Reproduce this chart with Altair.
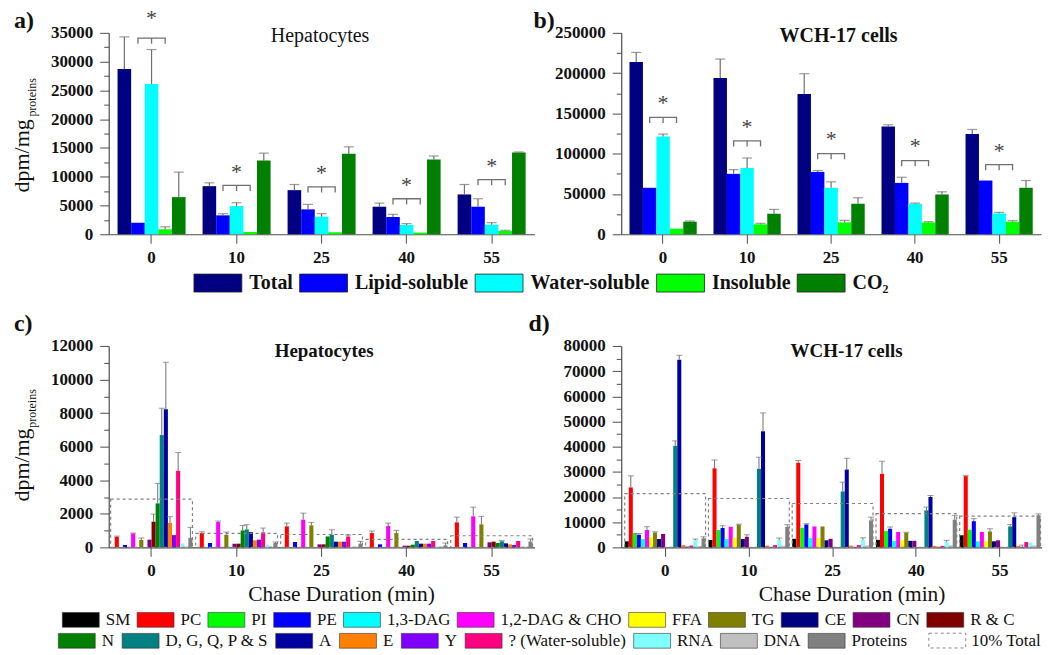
import altair as alt
import pandas as pd

FONT = "Liberation Serif"
AX = "#4d4d4d"
ERR = "#707070"
INK = "#111111"

# ---------------- shared categories ----------------
times = ["0", "10", "25", "40", "55"]

fractions = ["Total", "Lipid-soluble", "Water-soluble", "Insoluble", "CO\u2082"]
fraction_colors = ["#000080", "#0000FF", "#00FFFF", "#00FF00", "#008000"]

components = ["SM", "PC", "PI", "PE", "1,3-DAG", "1,2-DAG & CHO", "FFA", "TG", "CE", "CN", "R & C",
              "N", "D, G, Q, P & S", "A", "E", "Y", "? (Water-soluble)", "RNA", "DNA", "Proteins"]
component_colors = ["#000000", "#FF0000", "#00FF00", "#0000FF", "#00FFFF", "#FF00FF", "#FFFF00",
                    "#808000", "#000080", "#800080", "#800000", "#008000", "#008080", "#0000A0",
                    "#FF8000", "#8000FF", "#FF0080", "#80FFFF", "#C0C0C0", "#808080"]
box_label = ["10% Total"]

# ---------------- panel a: hepatocytes fractions ----------------
hep_total = [28700, 8360, 7670, 4790, 6920]
hep_total_err = [5600, 580, 980, 630, 1730]
hep_lipid = [2000, 3290, 4330, 3000, 4790]
hep_lipid_err = [0, 290, 860, 460, 1380]
hep_water = [26100, 4900, 3060, 1610, 1670]
hep_water_err = [6000, 580, 520, 240, 350]
hep_insol = [870, 400, 350, 300, 580]
hep_insol_err = [430, 0, 0, 0, 110]
hep_co2 = [6460, 12800, 14000, 13000, 14200]
hep_co2_err = [4340, 1300, 1200, 600, 100]
hep_sig = [34100, 8480, 8250, 6170, 9500]
hep_star = [37800, 11000, 10800, 8800, 12100]

# ---------------- panel b: WCH-17 fractions ----------------
wch_total = [213800, 194000, 174200, 133900, 124400]
wch_total_err = [11900, 23500, 25100, 2000, 5700]
wch_lipid = [57700, 75000, 77400, 63800, 66700]
wch_lipid_err = [0, 5300, 1700, 7000, 0]
wch_water = [121500, 82400, 57700, 37900, 25900]
wch_water_err = [2900, 12300, 7400, 800, 1300]
wch_insol = [7000, 12400, 14800, 14800, 15600]
wch_insol_err = [0, 1200, 2500, 800, 1300]
wch_co2 = [15600, 25500, 37900, 49400, 57700]
wch_co2_err = [900, 5400, 7400, 3300, 9000]
wch_sig = [145000, 116000, 100000, 91400, 86500]
wch_star = [164700, 134700, 119400, 111200, 105000]

# ---------------- panel c: hepatocytes components (order = components) ----------------
hep_c_t0 = [0, 630, 0, 140, 0, 830, 0, 440, 0, 460, 1530, 2620, 6690, 8230, 1450, 730, 4560, 240, 50, 560]
hep_c_t0_err = [0, 40, 0, 0, 0, 20, 0, 120, 0, 0, 450, 1190, 1600, 2800, 380, 0, 1090, 0, 0, 630]
hep_c_t10 = [0, 850, 0, 260, 0, 1510, 0, 750, 0, 220, 220, 1010, 1070, 910, 420, 460, 890, 160, 50, 260]
hep_c_t10_err = [0, 80, 0, 0, 0, 60, 0, 160, 0, 0, 0, 290, 280, 0, 0, 0, 260, 0, 0, 60]
hep_c_t25 = [0, 1250, 0, 320, 0, 1650, 0, 1310, 0, 180, 180, 650, 750, 340, 340, 340, 650, 50, 50, 220]
hep_c_t25_err = [0, 200, 0, 0, 0, 390, 0, 180, 0, 0, 0, 0, 300, 0, 0, 0, 80, 0, 0, 140]
hep_c_t40 = [0, 850, 0, 180, 0, 1270, 0, 850, 0, 100, 100, 160, 380, 220, 220, 220, 380, 50, 50, 120]
hep_c_t40_err = [0, 120, 0, 0, 0, 180, 0, 160, 0, 0, 0, 0, 0, 0, 0, 0, 0, 0, 0, 140]
hep_c_t55 = [0, 1490, 0, 260, 0, 1850, 0, 1370, 0, 300, 340, 260, 360, 240, 180, 140, 380, 50, 50, 350]
hep_c_t55_err = [0, 310, 0, 0, 0, 550, 0, 480, 0, 0, 0, 0, 40, 0, 0, 0, 0, 0, 0, 150]

# ---------------- panel d: WCH-17 components ----------------
wch_c_t0 = [2400, 23800, 5300, 5000, 3300, 6900, 4000, 5900, 3300, 5300, 0, 0, 40300, 74500, 900, 300, 700, 2900, 500, 3600]
wch_c_t0_err = [0, 4600, 200, 500, 0, 1300, 0, 300, 0, 0, 0, 0, 2000, 1800, 0, 0, 0, 400, 0, 600]
wch_c_t10 = [2900, 31400, 6900, 7700, 3300, 8200, 3700, 9000, 3300, 4200, 0, 0, 31200, 46100, 700, 200, 900, 2800, 700, 8100]
wch_c_t10_err = [0, 3300, 0, 900, 0, 0, 0, 200, 0, 800, 0, 0, 4600, 7300, 0, 0, 0, 900, 0, 900]
wch_c_t25 = [3400, 33600, 7800, 9100, 3700, 8300, 3700, 8300, 2800, 3400, 0, 0, 22200, 30900, 700, 200, 900, 2900, 800, 10700]
wch_c_t25_err = [0, 900, 0, 300, 0, 0, 0, 0, 0, 0, 0, 0, 3700, 4500, 0, 0, 0, 900, 0, 1300]
wch_c_t40 = [3000, 29200, 6500, 7400, 2500, 6100, 2800, 5800, 2600, 2600, 0, 0, 14700, 20000, 600, 200, 600, 2100, 800, 11000]
wch_c_t40_err = [0, 5000, 0, 700, 0, 0, 0, 200, 0, 0, 0, 0, 1300, 600, 0, 0, 0, 700, 0, 1700]
wch_c_t55 = [4800, 28300, 7000, 10400, 2400, 6100, 2400, 6300, 2400, 2800, 0, 0, 8300, 12000, 600, 200, 2100, 2000, 800, 12700]
wch_c_t55_err = [0, 200, 0, 1000, 0, 0, 0, 1100, 0, 0, 0, 0, 800, 1700, 0, 700, 0, 0, 0, 600]


# ---------------- tables ----------------
def fraction_frame(values, errors):
    recs = []
    for f, vals, errs in zip(fractions, values, errors):
        for t, v, e in zip(times, vals, errs):
            recs.append({"time": t, "series": f, "value": v, "err": e, "top": v + e})
    return pd.DataFrame(recs)


def component_frame(values, errors):
    recs = []
    for t, vals, errs in zip(times, values, errors):
        for c, v, e in zip(components, vals, errs):
            recs.append({"time": t, "comp": c, "value": v, "err": e, "top": v + e})
    return pd.DataFrame(recs)


hep_frac = fraction_frame([hep_total, hep_lipid, hep_water, hep_insol, hep_co2],
                          [hep_total_err, hep_lipid_err, hep_water_err, hep_insol_err, hep_co2_err])
wch_frac = fraction_frame([wch_total, wch_lipid, wch_water, wch_insol, wch_co2],
                          [wch_total_err, wch_lipid_err, wch_water_err, wch_insol_err, wch_co2_err])
hep_comp = component_frame([hep_c_t0, hep_c_t10, hep_c_t25, hep_c_t40, hep_c_t55],
                           [hep_c_t0_err, hep_c_t10_err, hep_c_t25_err, hep_c_t40_err, hep_c_t55_err])
wch_comp = component_frame([wch_c_t0, wch_c_t10, wch_c_t25, wch_c_t40, wch_c_t55],
                           [wch_c_t0_err, wch_c_t10_err, wch_c_t25_err, wch_c_t40_err, wch_c_t55_err])

# ---------------- legends ----------------
top_legend = alt.Legend(orient="none", legendX=85, legendY=226, direction="horizontal", title=None,
                        symbolType="M-1,-0.375H1V0.375H-1Z", symbolSize=2304, symbolStrokeColor="#222",
                        symbolStrokeWidth=0.8, symbolOpacity=1, labelFont=FONT, labelFontSize=20,
                        labelFontWeight="bold", labelColor=INK, labelOffset=7, columnPadding=4, labelLimit=400)


def bottom_legend(lx, ly, pad):
    return alt.Legend(orient="none", legendX=lx, legendY=ly, direction="horizontal", title=None,
                      symbolType="M-1,-0.4H1V0.4H-1Z", symbolSize=1369, symbolStrokeColor="#333",
                      symbolStrokeWidth=0.6, symbolOpacity=1, labelFont=FONT, labelFontSize=17,
                      labelColor=INK, labelOffset=6, columnPadding=pad, labelLimit=400)


comp_legend_1 = bottom_legend(-47, 255.5, 5)
comp_legend_2 = bottom_legend(-51, 276.5, 6)
box_legend = alt.Legend(orient="none", legendX=822, legendY=276.5, direction="horizontal", title=None,
                        symbolType="M-1,-0.4H1V0.4H-1Z", symbolSize=1369, symbolStrokeColor="#888",
                        symbolFillColor="#ffffff", symbolStrokeWidth=1, labelFont=FONT, labelFontSize=17,
                        labelColor=INK, labelOffset=5, labelLimit=400)


# ---------------- axes ----------------
def y_axis(ymax, step):
    return alt.Axis(values=list(range(0, ymax + 1, step)), format="d", title=None, grid=False,
                    labelFont=FONT, labelFontSize=17, labelFontWeight="bold", labelColor=INK,
                    tickSize=9, tickColor=AX, tickWidth=1, domainColor=AX, domainWidth=1.2,
                    labelPadding=7, orient="left")


def y_minor_axis(ymax, step):
    return alt.Axis(values=list(range(step // 2, ymax, step)), labels=False, title=None, grid=False,
                    domain=False, tickSize=5, tickColor=AX, tickWidth=1, orient="left")


def x_axis(title_x=None):
    kw = dict(labelFont=FONT, labelFontSize=17, labelFontWeight="bold", labelColor=INK, labelAngle=0,
              tickSize=9, labelPadding=6, domainColor=AX, tickColor=AX, tickWidth=1, domainWidth=1.2,
              grid=False)
    if title_x is not None:
        kw.update(titleFont=FONT, titleFontSize=21.5, titleFontWeight="normal", titleColor=INK,
                  titleX=title_x, titleY=53, titleBaseline="alphabetic")
    return alt.Axis(**kw)


def text_layer(txt, x, y, size, weight="normal", align="center", baseline="middle", angle=0):
    return alt.Chart(pd.DataFrame({"t": [txt]})).mark_text(
        font=FONT, fontSize=size, fontWeight=weight, color=INK, align=align, baseline=baseline,
        angle=angle).encode(text="t:N", x=alt.value(x), y=alt.value(y))


def ylabel_layers(y_main, y_sub):
    return [text_layer("dpm/mg", -80, y_main, 22, align="left", baseline="alphabetic", angle=270),
            text_layer("proteins", -73, y_sub, 12, align="left", baseline="alphabetic", angle=270)]


H = 202


def top_panel(frame, sig, star, ymax, step, width, xscale, title, title_x, title_weight, tag, tag_x,
              ylabel, legend):
    x = alt.X("time:N", sort=times, scale=xscale, title=None, axis=x_axis())
    xo = alt.XOffset("series:N", scale=alt.Scale(domain=fractions, paddingInner=0, paddingOuter=0))
    ysc = alt.Scale(domain=[0, ymax], nice=False, zero=True)
    arm = ymax * 0.028
    bars = alt.Chart(frame).mark_bar().encode(
        x=x, xOffset=xo, y=alt.Y("value:Q", scale=ysc, axis=y_axis(ymax, step)),
        color=alt.Color("series:N", scale=alt.Scale(domain=fractions, range=fraction_colors), legend=legend))
    err = alt.Chart(frame).transform_filter("datum.err > 0").mark_rule(color=ERR, strokeWidth=1.2).encode(
        x=x, xOffset=xo, y=alt.Y("value:Q", scale=ysc, axis=y_minor_axis(ymax, step)), y2="top:Q")
    cap = alt.Chart(frame).transform_filter("datum.err > 0").mark_tick(color=ERR, thickness=1.2, size=10).encode(
        x=x, xOffset=xo, y=alt.Y("top:Q", scale=ysc, axis=None))
    brk = []
    for t, s in zip(times, sig):
        for k, (ser, yv) in enumerate([(fractions[1], s - arm), (fractions[1], s),
                                        (fractions[3], s), (fractions[3], s - arm)]):
            brk.append({"time": t, "series": ser, "y": yv, "k": k})
    bracket = alt.Chart(pd.DataFrame(brk)).mark_line(color=ERR, strokeWidth=1.3).encode(
        x=x, xOffset=xo, y=alt.Y("y:Q", scale=ysc, axis=None), detail="time:N", order="k:Q")
    stub_df = pd.DataFrame({"time": times, "series": [fractions[2]] * 5, "y": sig,
                            "y2": [s - arm for s in sig]})
    stub = alt.Chart(stub_df).mark_rule(color=ERR, strokeWidth=1.3).encode(
        x=x, xOffset=xo, y=alt.Y("y:Q", scale=ysc, axis=None), y2="y2:Q")
    star_df = pd.DataFrame({"time": times, "series": [fractions[2]] * 5, "y": star})
    stars = alt.Chart(star_df).mark_text(text="*", font=FONT, fontSize=22, color="#444", baseline="middle",
                                         dy=1).encode(x=x, xOffset=xo, y=alt.Y("y:Q", scale=ysc, axis=None))
    layers = [bars, err, cap, bracket, stub, stars,
              text_layer(title, title_x, 3, 20, weight=title_weight),
              text_layer(tag, tag_x, -5, 24, weight="bold", align="left", baseline="alphabetic")]
    if ylabel:
        layers += ylabel_layers(160, 84)
    return alt.layer(*layers).resolve_axis(y="independent").properties(width=width, height=H)


def bottom_panel(frame, totals, ymax, step, width, xscale, title, title_x, tag, tag_x, ylabel,
                 axis_title_x, legends):
    leg1, leg2, leg3 = legends
    x = alt.X("time:N", sort=times, scale=xscale, title="Chase Duration (min)", axis=x_axis(axis_title_x))
    xo = alt.XOffset("comp:N", scale=alt.Scale(domain=components, paddingInner=0, paddingOuter=0))
    ysc = alt.Scale(domain=[0, ymax], nice=False, zero=True)
    first, second = components[:11], components[11:]
    pos = frame[frame["value"] > 0]
    bars1 = alt.Chart(pos).transform_filter(alt.FieldOneOfPredicate(field="comp", oneOf=first)).mark_bar().encode(
        x=x, xOffset=xo, y=alt.Y("value:Q", scale=ysc, axis=y_axis(ymax, step)),
        color=alt.Color("comp:N", scale=alt.Scale(domain=first, range=component_colors[:11]), legend=leg1))
    bars2 = alt.Chart(pos).transform_filter(alt.FieldOneOfPredicate(field="comp", oneOf=second)).mark_bar().encode(
        x=x, xOffset=xo, y=alt.Y("value:Q", scale=ysc, axis=None),
        fill=alt.Fill("comp:N", scale=alt.Scale(domain=second, range=component_colors[11:]), legend=leg2))
    err = alt.Chart(frame).transform_filter("datum.err > 0").mark_rule(color=ERR, strokeWidth=1).encode(
        x=x, xOffset=xo, y=alt.Y("value:Q", scale=ysc, axis=y_minor_axis(ymax, step)), y2="top:Q")
    cap = alt.Chart(frame).transform_filter("datum.err > 0").mark_tick(color=ERR, thickness=1, size=6).encode(
        x=x, xOffset=xo, y=alt.Y("top:Q", scale=ysc, axis=None))
    box_df = pd.DataFrame({"time": times, "box": [v * 0.1 for v in totals], "lab": box_label * 5})
    box = alt.Chart(box_df).mark_bar(filled=False, color="#808080", strokeWidth=1.2).encode(
        x=x, y=alt.Y("box:Q", scale=ysc, axis=None),
        strokeDash=alt.StrokeDash("lab:N", scale=alt.Scale(domain=box_label, range=[[3, 3]]), legend=leg3))
    layers = [bars1, bars2, err, cap, box,
              text_layer(title, title_x, 5, 19, weight="bold"),
              text_layer(tag, tag_x, -15, 24, weight="bold", align="left", baseline="alphabetic")]
    if ylabel:
        layers += ylabel_layers(156, 82)
    return alt.layer(*layers).resolve_axis(y="independent").properties(width=width, height=H)


pa = top_panel(hep_frac, hep_sig, hep_star, 35000, 5000, 427,
               alt.Scale(domain=times, paddingInner=0.2, paddingOuter=0.104),
               "Hepatocytes", 212, "normal", "a)", -95, True, top_legend)
pb = top_panel(wch_frac, wch_sig, wch_star, 250000, 50000, 421,
               alt.Scale(domain=times, paddingInner=0.2, paddingOuter=0.0985),
               "WCH-17 cells", 218, "bold", "b)", -88, False, None)
pc = bottom_panel(hep_comp, hep_total, 12000, 2000, 427,
                  alt.Scale(domain=times, paddingInner=0.038, paddingOuter=0.023),
                  "Hepatocytes", 216, "c)", -95, True, 233,
                  (comp_legend_1, comp_legend_2, box_legend))
pd_ = bottom_panel(wch_comp, wch_total, 80000, 10000, 422,
                   alt.Scale(domain=times, paddingInner=0.035, paddingOuter=0.03, align=0.7),
                   "WCH-17 cells", 226, "d)", -93, False, 231, (None, None, None))

chart = alt.concat(pa, pb, pc, pd_, columns=2, spacing={"row": 112, "column": 87}, bounds="flush").resolve_scale(
    color="independent", fill="independent", strokeDash="independent", xOffset="independent",
    x="independent", y="independent"
).properties(
    padding={"left": 3, "top": -3, "right": 0, "bottom": -3}, background="white"
).configure(font=FONT).configure_view(stroke=None)

chart.save("out.html", embed_options={"renderer": "svg", "actions": False})
